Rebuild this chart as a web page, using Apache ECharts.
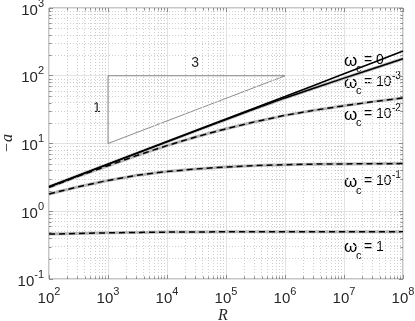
<!DOCTYPE html>
<html>
<head>
<meta charset="utf-8">
<script src="https://cdn.jsdelivr.net/npm/echarts@6/dist/echarts.min.js"></script>
<style>
html, body { margin: 0; padding: 0; background: #fff; }
#chart { width: 415px; height: 321px; }
</style>
</head>
<body>
<div id="chart"></div>
<script>
// R (x axis), half decades
var rVals = [1e2, 3.16e2, 1e3, 3.16e3, 1e4, 3.16e4, 1e5, 3.16e5, 1e6, 3.16e6, 1e7, 3.16e7, 1e8];
// -a for each omega_c
var aW0    = [2.3, 3.37, 4.95, 7.27, 10.7, 15.7, 23, 33.8, 49.5, 72.7, 107, 157, 232];
var aWm3   = [2.3, 3.37, 4.95, 7.25, 10.6, 15.5, 22.5, 32.8, 47, 66, 92, 128, 178];
var aWm2   = [2.25, 3.3, 4.7, 6.7, 9.3, 12.6, 16.5, 21, 26, 31, 36, 41.5, 47];
var aWm1   = [1.8, 2.3, 2.85, 3.4, 3.85, 4.22, 4.5, 4.72, 4.87, 4.96, 5.0, 5.03, 5.05];
var aW1    = [0.46, 0.47, 0.48, 0.487, 0.492, 0.495, 0.497, 0.498, 0.5, 0.5, 0.5, 0.5, 0.5];
// slope triangle (1:3)
var triX = [1e3, 1e3, 1e6, 1e3];
var triY = [10, 100, 100, 10];
// curve labels: exponent text ('' = none), anchor in data coords
var lblBase = ['0', '10', '10', '10', '1'];
var lblExp  = ['', '-3', '-2', '-1', ''];
var lblX    = [1e7, 1e7, 1e7, 1e7, 1e7];
var lblY    = [165, 78, 26, 2.65, 0.29];

function pairs(xs, ys) {
    var out = [];
    for (var i = 0; i < xs.length; i++) out.push([xs[i], ys[i]]);
    return out;
}

// minor positions 2..9 x 10^k
function minorVals(k0, k1) {
    var out = [];
    for (var k = k0; k <= k1; k++) {
        for (var m = 2; m <= 9; m++) out.push(m * Math.pow(10, k));
    }
    return out;
}
function majorVals(k0, k1) {
    var out = [];
    for (var k = k0; k <= k1; k++) out.push(Math.pow(10, k));
    return out;
}
var xMinor = minorVals(2, 7), yMinor = minorVals(-1, 2);
var xMajor = majorVals(2, 8), yMajor = majorVals(-1, 3);

var tickRich = {
    b: { fontSize: 15, color: '#262626', fontFamily: 'Liberation Sans', verticalAlign: 'bottom' },
    e: { fontSize: 11, color: '#262626', fontFamily: 'Liberation Sans', verticalAlign: 'bottom', padding: [0, 0, 9, 0] }
};
function powLabel(v) {
    var e = Math.round(Math.log(v) / Math.LN10);
    return '{b|10}{e|' + e + '}';
}

var grayLine = { color: '#b5b5b5', width: 3 };
function curve(ys, lineStyle, z) {
    return {
        type: 'line', data: pairs(rVals, ys), smooth: false, showSymbol: false,
        symbol: 'none', lineStyle: lineStyle, z: z, silent: true
    };
}
function gridLines(vals, key) {
    return vals.map(function (v) { var o = {}; o[key] = v; return o; });
}

var chart = echarts.init(document.getElementById('chart'));
var option = {
    animation: false,
    grid: {
        left: 49, right: 12, top: 8, bottom: 42, outerBoundsMode: 'none', containLabel: false,
        show: true, borderColor: '#8c8c8c', borderWidth: 1
    },
    xAxis: {
        type: 'log', logBase: 10, min: 1e2, max: 1e8, splitNumber: 6,
        axisLine: { show: false },
        axisTick: { show: true, inside: true, length: 4, lineStyle: { color: '#8c8c8c' } },
        axisLabel: { formatter: powLabel, rich: tickRich, margin: 7 },
        splitLine: { show: true, lineStyle: { color: '#e3e3e3', width: 1 } }
    },
    yAxis: {
        type: 'log', logBase: 10, min: 0.1, max: 1e3, splitNumber: 4,
        axisLine: { show: false },
        axisTick: { show: true, inside: true, length: 4, lineStyle: { color: '#8c8c8c' } },
        axisLabel: { formatter: powLabel, rich: tickRich, margin: 5 },
        splitLine: { show: true, lineStyle: { color: '#e3e3e3', width: 1 } }
    },
    series: [
        {
            type: 'line', data: [], silent: true, z: 1,
            markLine: {
                silent: true, symbol: ['none', 'none'], label: { show: false },
                lineStyle: { color: '#cfcfcf', width: 1, type: [1, 2] },
                data: gridLines(xMinor, 'xAxis').concat(gridLines(yMinor, 'yAxis'))
            }
        },
        {
            type: 'line', data: pairs(triX, triY), showSymbol: false, symbol: 'none', silent: true, z: 3,
            lineStyle: { color: '#6e6e6e', width: 0.8 }
        },
        curve(aWm3, grayLine, 4),
        curve(aWm2, grayLine, 4),
        curve(aWm1, grayLine, 4),
        curve(aW1, grayLine, 4),
        curve(aW0, { color: '#000', width: 1.6 }, 6),
        curve(aWm3, { color: '#000', width: 1.4 }, 5),
        curve(aWm2, { color: '#000', width: 1.5, type: [6, 4] }, 5),
        curve(aWm1, { color: '#000', width: 1.5, type: [6, 4] }, 5),
        curve(aW1, { color: '#000', width: 1.5, type: [6, 4] }, 5)
    ]
};
chart.setOption(option);

// annotations and box ticks placed through the axes
var txtFont = 'Liberation Sans';
var graphics = [];
function px(x, y) { return chart.convertToPixel({ gridIndex: 0 }, [x, y]); }
var corner0 = px(1e2, 0.1), corner1 = px(1e8, 1e3);
var tickStyle = { stroke: '#8c8c8c', lineWidth: 1 };
function addTick(x1, y1, x2, y2) {
    graphics.push({ type: 'line', silent: true, z: 8, shape: { x1: x1, y1: y1, x2: x2, y2: y2 }, style: tickStyle });
}
xMinor.forEach(function (v) {
    var x = Math.round(px(v, 1)[0]) + 0.5;
    addTick(x, corner0[1], x, corner0[1] - 2.5);
    addTick(x, corner1[1], x, corner1[1] + 2.5);
});
xMajor.forEach(function (v) {
    var x = Math.round(px(v, 1)[0]) + 0.5;
    addTick(x, corner1[1], x, corner1[1] + 4);
});
yMinor.forEach(function (v) {
    var y = Math.round(px(1e3, v)[1]) + 0.5;
    addTick(corner0[0], y, corner0[0] + 2.5, y);
    addTick(corner1[0], y, corner1[0] - 2.5, y);
});
yMajor.forEach(function (v) {
    var y = Math.round(px(1e3, v)[1]) + 0.5;
    addTick(corner1[0], y, corner1[0] - 4, y);
});

// axis names
var nameFont = 'Liberation Serif';
graphics.push({ type: 'text', silent: true, x: (corner0[0] + corner1[0]) / 2 - 3, y: corner0[1] + 37,
    style: { text: 'R', fontSize: 16, fontFamily: nameFont, fontStyle: 'italic', fill: '#262626', align: 'center', verticalAlign: 'middle' } });
graphics.push({ type: 'text', silent: true, x: 8, y: (corner0[1] + corner1[1]) / 2, rotation: Math.PI / 2,
    style: { text: '\u2212a', fontSize: 16, fontFamily: nameFont, fontStyle: 'italic', fill: '#262626', align: 'center', verticalAlign: 'middle' } });

for (var i = 0; i < lblBase.length; i++) {
    var p = px(lblX[i], lblY[i]);
    var kids = [
        { type: 'text', x: 0, y: 0, style: { text: '\u03c9', fontSize: 17, fontFamily: txtFont, fill: '#000', verticalAlign: 'middle', align: 'left' } },
        { type: 'text', x: 12, y: 8, style: { text: 'c', fontSize: 11, fontFamily: txtFont, fill: '#000', verticalAlign: 'middle', align: 'left' } },
        { type: 'text', x: 20, y: -1, style: { text: '= ' + lblBase[i], fontSize: 14, fontFamily: txtFont, fill: '#000', verticalAlign: 'middle', align: 'left' } }
    ];
    if (lblExp[i]) {
        kids.push({ type: 'text', x: 48, y: -7, style: { text: lblExp[i], fontSize: 10, fontFamily: txtFont, fill: '#000', verticalAlign: 'middle', align: 'left' } });
    }
    graphics.push({ type: 'group', x: p[0], y: p[1], z: 10, silent: true, children: kids });
}
var p1 = px(650, 33);
var p3 = px(3e4, 155);
graphics.push({ type: 'text', x: p1[0], y: p1[1], silent: true,
    style: { text: '1', fontSize: 14, fontFamily: txtFont, fill: '#262626', align: 'center', verticalAlign: 'middle' } });
graphics.push({ type: 'text', x: p3[0], y: p3[1], silent: true,
    style: { text: '3', fontSize: 14, fontFamily: txtFont, fill: '#262626', align: 'center', verticalAlign: 'middle' } });
chart.setOption({ graphic: graphics });
</script>
</body>
</html>
